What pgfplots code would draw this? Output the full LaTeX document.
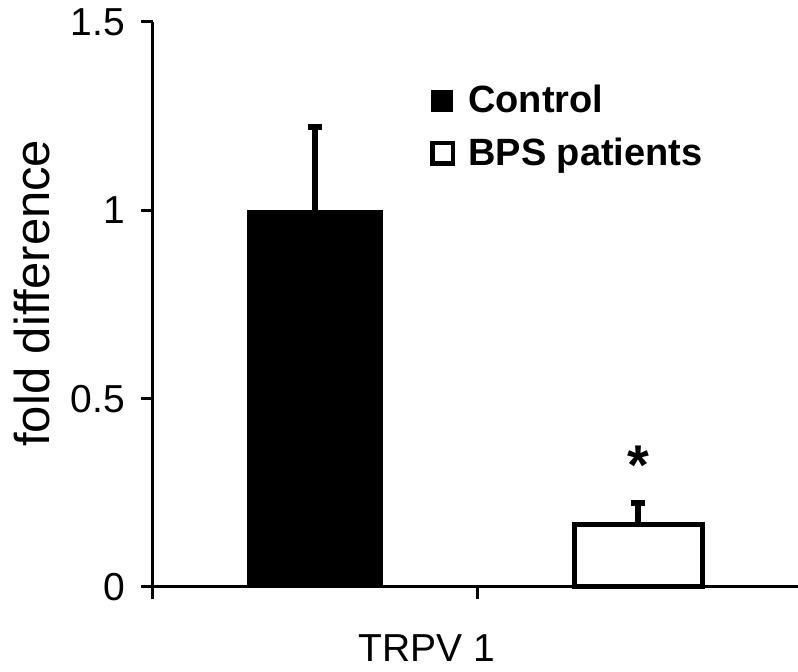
\documentclass[border=0pt]{standalone}
\usepackage{pgfplots}
\pgfplotsset{compat=1.18}
\usepackage{fontspec}
\setmainfont{Liberation Sans}
\begin{document}
\begin{tikzpicture}
\begin{axis}[
  scale only axis,
  width=322.5pt, height=282.5pt,
  xmin=0, xmax=1.985, ymin=0, ymax=1.5,
  axis lines=left,
  axis line style={-, line width=1.5pt, black},
  every tick/.style={black, line width=1.5pt},
  tick align=outside,
  major tick length=6pt,
  xtick={0,1}, xticklabels={},
  ytick={0,0.5,1,1.5},
  yticklabel style={font=\fontsize{19.5}{23}\selectfont, xshift=-4.5pt},
  /pgf/number format/assume math mode=true,
  ylabel={fold difference},
  ylabel style={at={(axis description cs:-0.1876,0.52)}, anchor=center, font=\fontsize{24.5}{28}\selectfont},
  xlabel={TRPV 1},
  xlabel style={at={(axis description cs:0.4248,0)}, anchor=center, yshift=-30.5pt, font=\fontsize{19.5}{24}\selectfont},
  legend style={draw=none, fill=none, at={(axis cs:0.852,1.333)}, anchor=north west,
    font=\bfseries\fontsize{19}{22}\selectfont, row sep=11pt, inner sep=0pt,
    nodes={inner sep=0pt}},
  legend cell align=left,
  clip=false,
]
\addplot[ybar, bar shift=0pt, bar width=68pt, fill=black, draw=none,
  legend image code/.code={\fill[black] (0pt,-5.5pt) rectangle (11pt,5.5pt); \path (17.5pt,0pt);},
  error bars/.cd, y dir=plus, y explicit,
  error bar style={line width=3pt, black},
  error mark options={rotate=90, line width=3pt, mark size=3.5pt, black}]
  coordinates {(0.5,1.0) +- (0,0.2225)};
\addlegendentry{Control}
\addplot[ybar, bar shift=0pt, bar width=64pt, fill=white, draw=black, line width=2.5pt,
  legend image code/.code={\fill[black] (1pt,-5pt) rectangle (11pt,5pt); \fill[white] (3.2pt,-2.8pt) rectangle (8.8pt,2.8pt); \path (17.5pt,0pt);},
  error bars/.cd, y dir=plus, y explicit,
  error bar style={line width=3pt, black},
  error mark options={rotate=90, line width=3pt, mark size=3.5pt, black}]
  coordinates {(1.494,0.166) +- (0,0.058)};
\addlegendentry{BPS patients}
\node[anchor=north, inner sep=0pt, font=\bfseries\fontsize{28}{30}\selectfont] at (axis cs:1.494,0.376) {*};
\end{axis}
\pgfresetboundingbox
\path[use as bounding box] (-76.5pt,-42.5pt) rectangle (322.5pt,293.5pt);
\end{tikzpicture}
\end{document}
